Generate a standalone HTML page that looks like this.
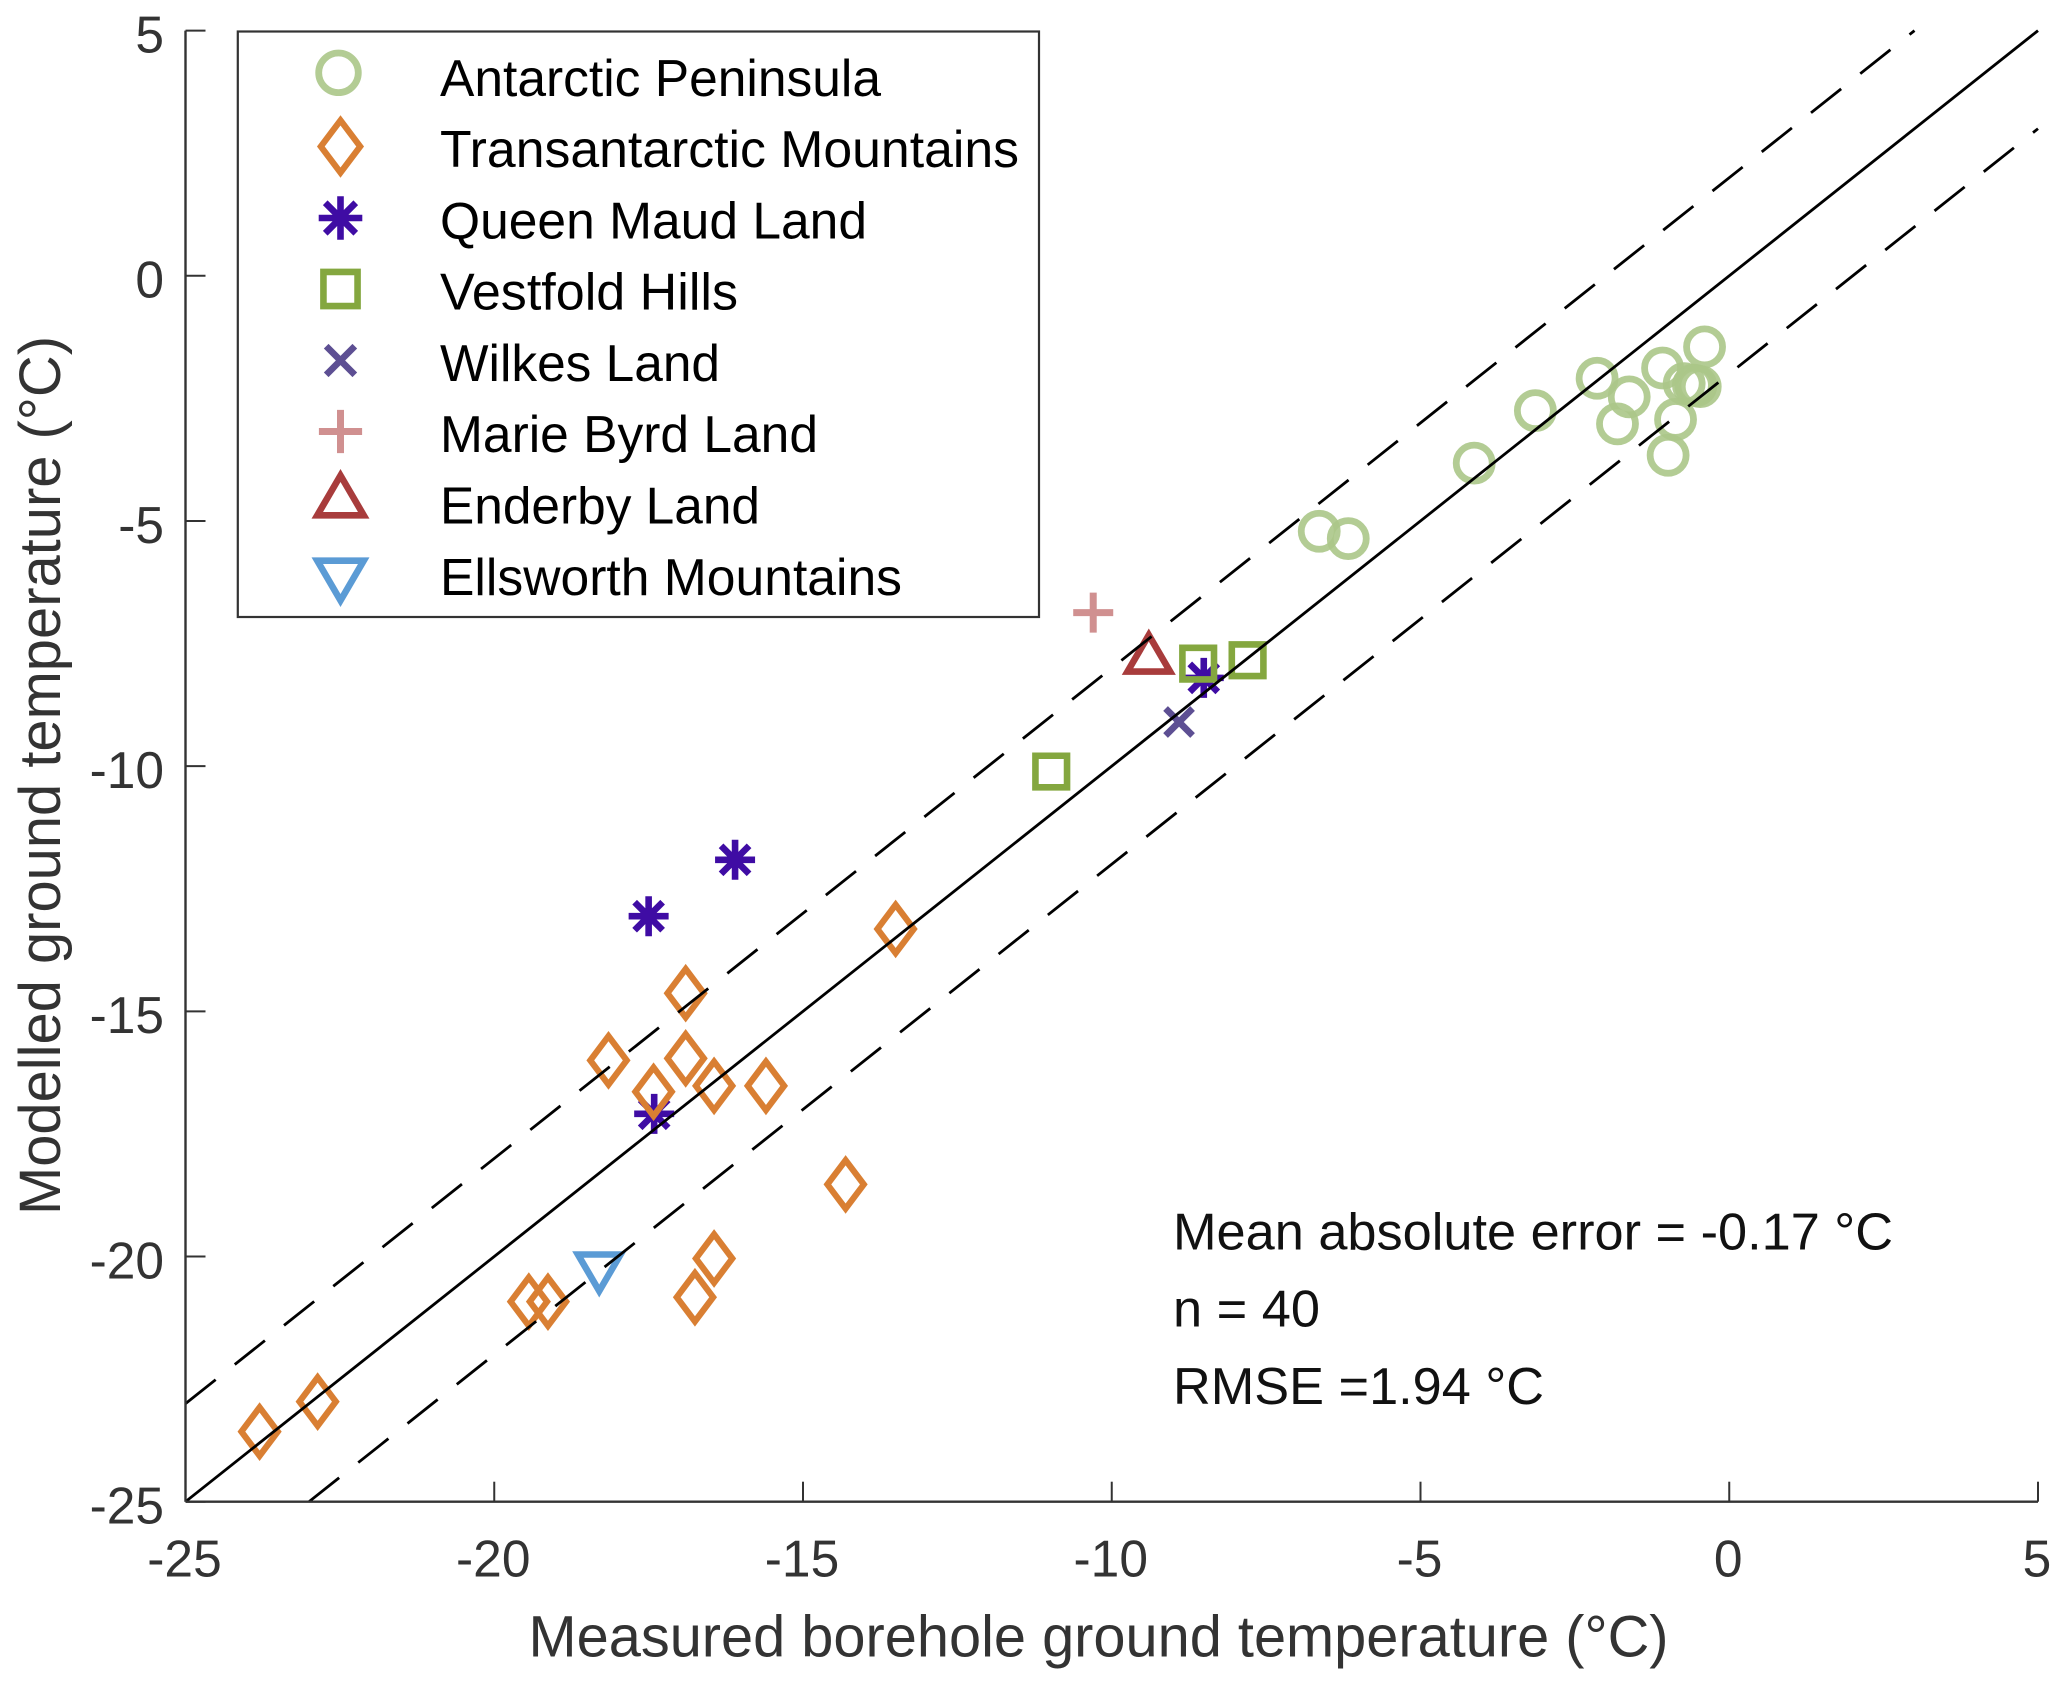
<!DOCTYPE html>
<html lang="en">
<head>
<meta charset="utf-8">
<title>Modelled vs measured ground temperature</title>
<style>
html,body{margin:0;padding:0;background:#fff;}
svg{display:block;font-family:"Liberation Sans",Arial,sans-serif;}
.tick{font-size:51.5px;fill:#333;}
.axis-title{font-size:58px;fill:#333;}
.leg{font-size:52px;fill:#000;}
.note{font-size:52px;fill:#111;}
</style>
</head>
<body>
<svg id="chart" xmlns="http://www.w3.org/2000/svg" width="2067" height="1687" viewBox="0 0 2067 1687">
  <rect x="0" y="0" width="2067" height="1687" fill="#fff"/>
  <g id="marks"></g>
  <g id="lines"></g>
  <g id="axes"></g>
  <text class="axis-title" x="1098.5" y="1656.7" text-anchor="middle" textLength="1140" lengthAdjust="spacingAndGlyphs">Measured borehole ground temperature (°C)</text>
  <text class="axis-title" transform="translate(60,775.5) rotate(-90)" text-anchor="middle" textLength="879" lengthAdjust="spacingAndGlyphs">Modelled ground temperature (°C)</text>
  <g>
    <rect x="237.8" y="31.5" width="801.2" height="585.5" fill="#fff" stroke="#333" stroke-width="2.2"/>
    <g id="legend-markers"></g>
    <text class="leg" x="440" y="96" textLength="441" lengthAdjust="spacingAndGlyphs">Antarctic Peninsula</text>
    <text class="leg" x="440" y="167" textLength="579" lengthAdjust="spacingAndGlyphs">Transantarctic Mountains</text>
    <text class="leg" x="440" y="238.5" textLength="427" lengthAdjust="spacingAndGlyphs">Queen Maud Land</text>
    <text class="leg" x="440" y="309.5" textLength="298" lengthAdjust="spacingAndGlyphs">Vestfold Hills</text>
    <text class="leg" x="440" y="381" textLength="280" lengthAdjust="spacingAndGlyphs">Wilkes Land</text>
    <text class="leg" x="440" y="452" textLength="378" lengthAdjust="spacingAndGlyphs">Marie Byrd Land</text>
    <text class="leg" x="440" y="523.5" textLength="320" lengthAdjust="spacingAndGlyphs">Enderby Land</text>
    <text class="leg" x="440" y="595" textLength="462" lengthAdjust="spacingAndGlyphs">Ellsworth Mountains</text>
  </g>
  <text class="note" x="1173" y="1249.3" textLength="720" lengthAdjust="spacingAndGlyphs">Mean absolute error = -0.17 °C</text>
  <text class="note" x="1173" y="1326.7" textLength="147" lengthAdjust="spacingAndGlyphs">n = 40</text>
  <text class="note" x="1173" y="1404" textLength="371" lengthAdjust="spacingAndGlyphs">RMSE =1.94 °C</text>
</svg>
<script>
// Chart data (°C)
const xTicks = [-25, -20, -15, -10, -5, 0, 5];
const yTicks = [-25, -20, -15, -10, -5, 0, 5];

const peninsulaX = [-3.14, -2.14, -1.62, -1.81, -1.08, -0.40, -0.73, -0.58, -0.54, -0.47, -0.87, -0.99, -4.13, -6.64, -6.17];
const peninsulaY = [-2.75, -2.09, -2.47, -3.02, -1.88, -1.45, -2.20, -2.23, -2.24, -2.26, -2.93, -3.66, -3.82, -5.21, -5.36];

const transantarcticX = [-13.50, -16.90, -16.90, -18.15, -17.42, -16.44, -15.60, -14.31, -16.44, -16.75, -19.44, -19.13, -23.80, -22.86];
const transantarcticY = [-13.32, -14.63, -15.96, -16.00, -16.64, -16.52, -16.52, -18.53, -20.04, -20.83, -20.92, -20.92, -23.57, -22.96];

const queenMaudX = [-16.10, -17.50, -17.41, -8.51];
const queenMaudY = [-11.91, -13.06, -17.09, -8.20];

const vestfoldX = [-8.60, -7.80, -10.98];
const vestfoldY = [-7.91, -7.84, -10.11];

const wilkesX = [-8.91];
const wilkesY = [-9.10];

const marieByrdX = [-10.30];
const marieByrdY = [-6.87];

const enderbyX = [-9.40];
const enderbyY = [-7.71];

const ellsworthX = [-18.30];
const ellsworthY = [-20.32];

const oneToOneX = [-25, 5];
const upperBoundX = [-25, 3];
const lowerBoundX = [-23, 5];
const boundOffset = 2;

// Axis functions
const plotLeft = 185.5, plotRight = 2038, plotBottom = 1501.7, plotTop = 30.6;
const xDomain = [-25, 5], yDomain = [-25, 5];
function sx(v){ return plotLeft + (v - xDomain[0]) / (xDomain[1] - xDomain[0]) * (plotRight - plotLeft); }
function sy(v){ return plotBottom - (v - yDomain[0]) / (yDomain[1] - yDomain[0]) * (plotBottom - plotTop); }

const NS = 'http://www.w3.org/2000/svg';
function mk(parent, tag, attrs){
  const el = document.createElementNS(NS, tag);
  for (const k in attrs) el.setAttribute(k, attrs[k]);
  parent.appendChild(el);
  return el;
}

// Marker drawing: shape geometry is around (0,0), scaled by s
function pathFor(shape, s){
  const p = (n) => (n * s).toFixed(2);
  if (shape === 'diamond') return `M0,${p(-24.2)}L${p(18.2)},0L0,${p(24.2)}L${p(-18.2)},0Z`;
  if (shape === 'square') return `M${p(-15.8)},${p(-15.8)}H${p(15.8)}V${p(15.8)}H${p(-15.8)}Z`;
  if (shape === 'star') return `M0,${p(-20)}V${p(20)}M${p(-20)},0H${p(20)}M${p(-14)},${p(-14)}L${p(14)},${p(14)}M${p(-14)},${p(14)}L${p(14)},${p(-14)}`;
  if (shape === 'cross') return `M${p(-13.5)},${p(-13.5)}L${p(13.5)},${p(13.5)}M${p(-13.5)},${p(13.5)}L${p(13.5)},${p(-13.5)}`;
  if (shape === 'plus') return `M0,${p(-20)}V${p(20)}M${p(-20)},0H${p(20)}`;
  if (shape === 'up') return `M0,${p(-18.8)}L${p(21.3)},${p(17.7)}H${p(-21.3)}Z`;
  if (shape === 'down') return `M0,${p(18.8)}L${p(21.3)},${p(-17.7)}H${p(-21.3)}Z`;
  return '';
}
function drawMarker(parent, shape, color, opacity, width, cx, cy, s){
  if (shape === 'circle') {
    return mk(parent, 'circle', {cx: cx.toFixed(2), cy: cy.toFixed(2), r: (18 * s).toFixed(2), fill: 'none', stroke: color, 'stroke-width': width, 'stroke-opacity': opacity});
  }
  return mk(parent, 'path', {d: pathFor(shape, s), transform: `translate(${cx.toFixed(2)},${cy.toFixed(2)})`, fill: 'none', stroke: color, 'stroke-width': width, 'stroke-opacity': opacity, 'stroke-linejoin': 'miter', 'stroke-miterlimit': 10});
}

const marks = document.getElementById('marks');
const legendMarks = document.getElementById('legend-markers');

function drawSeries(name, shape, color, opacity, width, xs, ys, legendX, legendY, legendScale){
  const g = mk(marks, 'g', {});
  
  
  xs.forEach((x, i) => {
    const m = drawMarker(g, shape, color, opacity, width, sx(x), sy(ys[i]), 1);
    
    
  });
  const lm = drawMarker(legendMarks, shape, color, opacity, width, legendX, legendY, legendScale);
  
  
}

drawSeries('queen-maud-land', 'star', '#3f0ca4', 1, 6.6, queenMaudX, queenMaudY, 340.5, 218, 1.09);
drawSeries('antarctic-peninsula', 'circle', '#abc688', 0.9, 6.8, peninsulaX, peninsulaY, 338.5, 72.8, 1.1);
drawSeries('transantarctic-mountains', 'diamond', '#d97f33', 1, 6.2, transantarcticX, transantarcticY, 340.5, 146.5, 1.08);
drawSeries('vestfold-hills', 'square', '#84a73f', 1, 6.6, vestfoldX, vestfoldY, 340.5, 289, 1.08);
drawSeries('wilkes-land', 'cross', '#5d4f93', 1, 6.6, wilkesX, wilkesY, 340.5, 360.5, 1.06);
drawSeries('marie-byrd-land', 'plus', '#d09090', 1, 7, marieByrdX, marieByrdY, 340.5, 431.5, 1.08);
drawSeries('enderby-land', 'up', '#a83c3c', 1, 6.6, enderbyX, enderbyY, 340.5, 496, 1.09);
drawSeries('ellsworth-mountains', 'down', '#5b9bd5', 1, 6.6, ellsworthX, ellsworthY, 340.5, 580, 1.09);

// Reference lines
const lines = document.getElementById('lines');
const solidLine = mk(lines, 'line', {x1: sx(oneToOneX[0]), y1: sy(oneToOneX[0]), x2: sx(oneToOneX[1]), y2: sy(oneToOneX[1]), stroke: '#000', 'stroke-width': 2.8});


const upperLine = mk(lines, 'line', {x1: sx(upperBoundX[0]), y1: sy(upperBoundX[0] + boundOffset), x2: sx(upperBoundX[1]), y2: sy(upperBoundX[1] + boundOffset), stroke: '#000', 'stroke-width': 2.8, 'stroke-dasharray': '38.5 24.4'});


const lowerLine = mk(lines, 'line', {x1: sx(lowerBoundX[0]), y1: sy(lowerBoundX[0] - boundOffset), x2: sx(lowerBoundX[1]), y2: sy(lowerBoundX[1] - boundOffset), stroke: '#000', 'stroke-width': 2.8, 'stroke-dasharray': '38.5 24.4'});



// Axes
const axes = document.getElementById('axes');
const xAxisLine = mk(axes, 'line', {x1: plotLeft, y1: plotBottom, x2: plotRight, y2: plotBottom, stroke: '#333', 'stroke-width': 2.4});


const yAxisLine = mk(axes, 'line', {x1: plotLeft, y1: plotBottom, x2: plotLeft, y2: plotTop, stroke: '#333', 'stroke-width': 2.4});



xTicks.forEach((v) => {
  const t = mk(axes, 'line', {x1: sx(v), y1: plotBottom, x2: sx(v), y2: plotBottom - 20, stroke: '#333', 'stroke-width': 2});
  
  
  const l = mk(axes, 'text', {x: sx(v) - 1, y: plotBottom + 75, 'text-anchor': 'middle', class: 'tick'});
  l.textContent = String(v);
  
  
});
yTicks.forEach((v) => {
  const t = mk(axes, 'line', {x1: plotLeft, y1: sy(v), x2: plotLeft + 20, y2: sy(v), stroke: '#333', 'stroke-width': 2});
  
  
  const l = mk(axes, 'text', {x: 164, y: sy(v) + 21.8, 'text-anchor': 'end', class: 'tick'});
  l.textContent = String(v);
  
  
});
</script>
</body>
</html>
